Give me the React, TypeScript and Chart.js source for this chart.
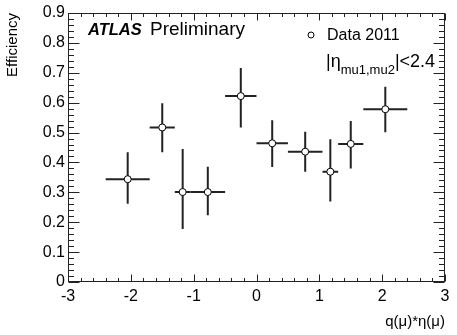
import React, { useEffect, useRef } from "react";
import { Chart, registerables } from "chart.js";

Chart.register(...registerables);

// ---- data ----
const binCenters = [-2.05, -1.5, -1.175, -0.775, -0.25, 0.25, 0.775, 1.175, 1.5, 2.05];
const binLow = [-2.4, -1.7, -1.3, -1.05, -0.5, 0, 0.5, 1.05, 1.3, 1.7];
const binHigh = [-1.7, -1.3, -1.05, -0.5, 0, 0.5, 1.05, 1.3, 1.7, 2.4];
const efficiency = [0.344, 0.517, 0.301, 0.301, 0.622, 0.464, 0.436, 0.369, 0.462, 0.578];
const errUp = [0.09, 0.081, 0.144, 0.085, 0.094, 0.077, 0.067, 0.109, 0.077, 0.075];
const errDown = [0.082, 0.083, 0.124, 0.078, 0.105, 0.079, 0.067, 0.1, 0.082, 0.077];

const xTickValues = [-3, -2, -1, 0, 1, 2, 3];
const yTickValues = [0, 0.1, 0.2, 0.3, 0.4, 0.5, 0.6, 0.7, 0.8, 0.9];

const FONT = "'Liberation Sans', Arial, Helvetica, sans-serif";

const errorBarPlugin = {
  id: "errorBars",
  beforeDatasetsDraw(chart: any) {
    const { ctx, scales } = chart;
    const xs = scales.x;
    const ys = scales.y;
    ctx.save();
    ctx.strokeStyle = "#222";
    ctx.lineWidth = 2;
    for (let i = 0; i < binCenters.length; i++) {
      const px = xs.getPixelForValue(binCenters[i]);
      const py = ys.getPixelForValue(efficiency[i]);
      const x0 = xs.getPixelForValue(binLow[i]);
      const x1 = xs.getPixelForValue(binHigh[i]);
      const y0 = ys.getPixelForValue(efficiency[i] - errDown[i]);
      const y1 = ys.getPixelForValue(efficiency[i] + errUp[i]);
      ctx.beginPath();
      ctx.moveTo(x0, py);
      ctx.lineTo(x1, py);
      ctx.moveTo(px, y0);
      ctx.lineTo(px, y1);
      ctx.stroke();
    }
    ctx.restore();
  },
};

const framePlugin = {
  id: "rootFrame",
  afterDraw(chart: any) {
    const { ctx, chartArea, scales } = chart;
    const xs = scales.x;
    const ys = scales.y;
    const L = Math.round(chartArea.left) + 0.5;
    const R = Math.round(chartArea.right) - 0.5;
    const T = Math.round(chartArea.top) + 0.5;
    const B = Math.round(chartArea.bottom) - 0.5;
    ctx.save();
    ctx.strokeStyle = "#222";
    ctx.lineWidth = 1;
    ctx.strokeRect(L, T, R - L, B - T);
    ctx.beginPath();
    // x ticks (bottom and top), 5 subdivisions
    for (let k = 0; k <= 30; k++) {
      const v = -3 + k * 0.2;
      const px = Math.round(xs.getPixelForValue(v)) + 0.5;
      const len = k % 5 === 0 ? 7 : 3.5;
      ctx.moveTo(px, B);
      ctx.lineTo(px, B - len);
      ctx.moveTo(px, T);
      ctx.lineTo(px, T + len);
    }
    // y ticks (left and right)
    for (let k = 0; k <= 45; k++) {
      const v = k * 0.02;
      const py = Math.round(ys.getPixelForValue(v)) + 0.5;
      const len = k % 5 === 0 ? 11 : 5.5;
      ctx.moveTo(L, py);
      ctx.lineTo(L + len, py);
      ctx.moveTo(R, py);
      ctx.lineTo(R - len, py);
    }
    ctx.stroke();

    // ATLAS label
    ctx.fillStyle = "#000";
    ctx.textBaseline = "alphabetic";
    ctx.textAlign = "left";
    ctx.font = `italic bold 16.5px ${FONT}`;
    ctx.fillText("ATLAS", 88, 35);
    ctx.font = `19px ${FONT}`;
    ctx.fillText("Preliminary", 150, 35);

    // legend
    const label = chart.data.datasets[0].label;
    ctx.beginPath();
    ctx.arc(311, 35, 3, 0, Math.PI * 2);
    ctx.fillStyle = "#fff";
    ctx.fill();
    ctx.strokeStyle = "#000";
    ctx.lineWidth = 1;
    ctx.stroke();
    ctx.fillStyle = "#000";
    ctx.font = `16px ${FONT}`;
    ctx.fillText(label, 327, 40);

    // |eta_{mu1,mu2}|<2.4
    let x = 326;
    const base = 67;
    ctx.font = `18px ${FONT}`;
    ctx.fillText("|η", x, base);
    x += ctx.measureText("|η").width;
    ctx.font = `13px ${FONT}`;
    ctx.fillText("mu1,mu2", x, base + 7);
    x += ctx.measureText("mu1,mu2").width;
    ctx.font = `18px ${FONT}`;
    ctx.fillText("|<2.4", x, base);
    ctx.restore();
  },
};

export default function App() {
  const ref = useRef<HTMLCanvasElement | null>(null);
  useEffect(() => {
    if (!ref.current) return;
    const chart = new Chart(ref.current, {
      type: "scatter",
      data: {
        datasets: [
          {
            label: "Data 2011",
            data: binCenters.map((x, i) => ({ x, y: efficiency[i] })),
            pointRadius: 3.5,
            pointHoverRadius: 3.5,
            pointBackgroundColor: "#ffffff",
            pointBorderColor: "#000000",
            pointBorderWidth: 1,
            showLine: false,
          },
        ],
      },
      options: {
        animation: false,
        responsive: false,
        devicePixelRatio: 1,
        layout: { padding: { top: 13, right: 12, left: 0, bottom: 0 } },
        plugins: {
          legend: { display: false },
          tooltip: { enabled: false },
        },
        scales: {
          x: {
            type: "linear",
            min: -3,
            max: 3,
            afterBuildTicks: (s: any) => {
              s.ticks = xTickValues.map((v) => ({ value: v }));
            },
            afterFit: (s: any) => {
              s.height = 53;
            },
            grid: { display: false, drawTicks: false },
            border: { display: false },
            ticks: {
              padding: 5,
              color: "#000",
              font: { family: FONT, size: 16 },
              callback: (v: any) => String(v),
              maxRotation: 0,
              autoSkip: false,
            },
            title: {
              display: true,
              text: "q(μ)*η(μ)",
              align: "end",
              color: "#000",
              font: { family: FONT, size: 15 },
              padding: { top: 0, bottom: 4 },
            },
          },
          y: {
            type: "linear",
            min: 0,
            max: 0.9,
            afterBuildTicks: (s: any) => {
              s.ticks = yTickValues.map((v) => ({ value: v }));
            },
            afterFit: (s: any) => {
              s.width = 68;
            },
            grid: { display: false, drawTicks: false },
            border: { display: false },
            ticks: {
              padding: 3,
              color: "#000",
              font: { family: FONT, size: 16 },
              callback: (v: any) => (v === 0 ? "0" : Number(v).toFixed(1)),
              autoSkip: false,
            },
            title: {
              display: true,
              text: "Efficiency",
              align: "end",
              color: "#000",
              font: { family: FONT, size: 15 },
              padding: { top: 4, bottom: 0 },
            },
          },
        },
      },
      plugins: [errorBarPlugin, framePlugin],
    });
    return () => chart.destroy();
  }, []);
  return (
    <div style={{ position: "fixed", left: 0, top: 0, width: 457, height: 335, background: "#fff" }}>
      <canvas ref={ref} width={457} height={335} style={{ display: "block" }} />
    </div>
  );
}
